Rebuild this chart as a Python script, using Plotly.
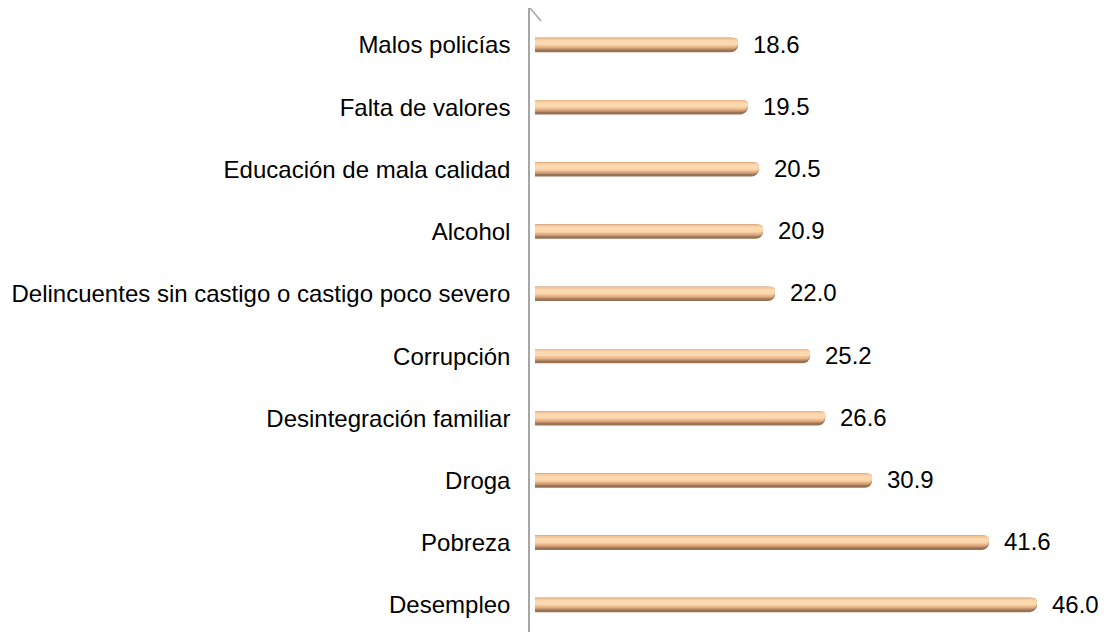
import plotly.graph_objects as go

categories = ["Desempleo", "Pobreza", "Droga", "Desintegración familiar", "Corrupción",
              "Delincuentes sin castigo o castigo poco severo", "Alcohol",
              "Educación de mala calidad", "Falta de valores", "Malos policías"]
values = [46.0, 41.6, 30.9, 26.6, 25.2, 22.0, 20.9, 20.5, 19.5, 18.6]

# cylinder shading layers: (offset, width, color)
layers = [(-0.115, 0.23, "#9a7254"),
          (-0.072, 0.187, "#c99a72"),
          (-0.045, 0.16, "#e8b689"),
          (-0.02, 0.125, "#f5c99d"),
          (0.0, 0.078, "#fdd9b0")]

fig = go.Figure()
for off, w, col in layers:
    fig.add_trace(go.Bar(
        y=categories, x=values, orientation="h",
        offset=off, width=w,
        marker=dict(color=col, line=dict(width=0), cornerradius="50%"),
        hoverinfo="skip", showlegend=False))

for c, v in zip(categories, values):
    fig.add_annotation(x=v, y=c, text=f"{v:.1f}", showarrow=False,
                       xanchor="left", xshift=13, yshift=1,
                       font=dict(size=24, color="#000000"))

fig.add_shape(type="line", xref="paper", yref="paper",
              xsizemode="pixel", ysizemode="pixel", xanchor=0, yanchor=1,
              x0=0, x1=11, y0=0, y1=-13,
              line=dict(color="#a6a6a6", width=1.5))

fig.update_layout(
    width=1103, height=624,
    margin=dict(l=522, r=0, t=0, b=0),
    paper_bgcolor="white", plot_bgcolor="white",
    barmode="overlay",
    font=dict(family="Liberation Sans, Arial, sans-serif", size=24, color="#000000"),
    xaxis=dict(range=[-0.46, 52.8], visible=False, fixedrange=True),
    yaxis=dict(type="category", categoryorder="array", categoryarray=categories,
               range=[-0.434, 9.595], showline=True, linecolor="#a6a6a6", linewidth=1.5,
               showgrid=False, ticks="", ticklabelstandoff=13,
               tickfont=dict(size=24), fixedrange=True, automargin=False),
)

fig.write_html("out.html")
